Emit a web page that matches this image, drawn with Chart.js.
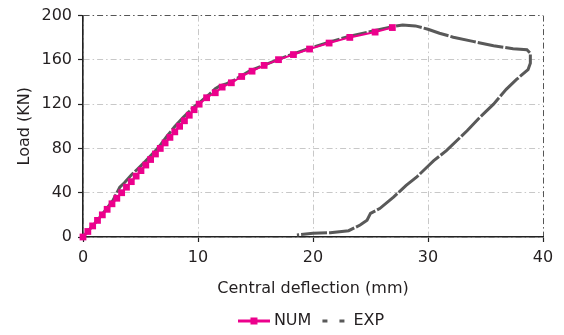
<!DOCTYPE html>
<html>
<head>
<meta charset="utf-8">
<script src="https://cdn.jsdelivr.net/npm/chart.js@4.4.1/dist/chart.umd.min.js"></script>
<style>
  html, body { margin: 0; padding: 0; background: #ffffff; }
  #wrap { width: 564px; height: 335px; }
</style>
</head>
<body>
<div id="wrap"><canvas id="c" width="564" height="335"></canvas></div>
<script>
// NUM series (central deflection mm, load kN)
const numX = [0, 0.42, 0.84, 1.26, 1.68, 2.1, 2.52, 2.94, 3.36, 3.78, 4.2, 4.62, 5.04, 5.46, 5.88, 6.3, 6.72, 7.14, 7.56, 7.98, 8.4, 8.82, 9.24, 9.66, 10.1, 10.75, 11.5, 12.1, 12.9, 13.8, 14.7, 15.75, 17.0, 18.3, 19.7, 21.4, 23.2, 25.4, 26.9];
const numY = [0, 5, 10, 15, 20, 25, 30, 35, 40, 45, 50, 55, 60, 65, 70, 75, 80, 85, 90, 95, 100, 105, 110, 115, 120, 125.8, 130.3, 135.4, 139.3, 145, 149.8, 155, 160.2, 164.8, 169.8, 175.2, 180.3, 185.1, 189.2];

// EXP series (central deflection mm, load kN)
const expX = [0, 1.0, 2.0, 2.6, 3.2, 3.6, 4.2, 4.7, 5.2, 5.65, 6.4, 6.8, 7.3, 8.0, 8.7, 9.6, 10.2, 11.0, 11.5, 11.9, 12.5, 13.2, 14.0, 14.5, 15.7, 17.0, 18.3, 19.7, 21.4, 23.2, 25.4, 26.9, 27.8, 28.9, 30.0, 31.0, 32.2, 33.9, 35.7, 37.4, 38.6, 38.9, 38.9, 38.7, 37.7, 36.8, 35.7, 34.5, 33.4, 32.8, 31.6, 30.5, 29.9, 29.0, 28.1, 27.0, 25.8, 25.0, 24.7, 24.1, 23.1, 21.5, 20.0, 18.6];
const expY = [0, 12, 25, 33, 45, 49, 56, 61, 66, 71, 79, 84, 91, 100, 108, 117, 122, 129, 134, 136.5, 138.5, 142, 147, 150, 155, 160.5, 165.5, 170.5, 176, 181.5, 186.5, 190, 191.5, 190.7, 187.7, 184.1, 180.5, 176.7, 172.8, 170.1, 169.2, 166, 157, 151.3, 142.3, 133.4, 120, 108, 96, 90, 78, 69, 63, 54, 46.6, 36, 25.7, 21.3, 15.2, 10.8, 5.7, 3.9, 3.3, 1.8];

const seriesNames = ['NUM', 'EXP'];
const xTitle = 'Central deflection (mm)';
const yTitle = 'Load (KN)';

const PINK = '#ec008c';
const GRAY = '#595959';
const TEXT = '#231f20';

// legend symbols
function makeNumIcon() {
  const c = document.createElement('canvas');
  c.width = 32; c.height = 10;
  const g = c.getContext('2d');
  g.strokeStyle = PINK; g.lineWidth = 3;
  g.beginPath(); g.moveTo(0, 5); g.lineTo(32, 5); g.stroke();
  g.fillStyle = PINK; g.fillRect(12.5, 1.5, 7, 7);
  return c;
}
function makeExpIcon() {
  const c = document.createElement('canvas');
  c.width = 26; c.height = 10;
  const g = c.getContext('2d');
  g.strokeStyle = GRAY; g.lineWidth = 3;
  g.beginPath(); g.moveTo(2, 5); g.lineTo(7, 5); g.moveTo(19, 5); g.lineTo(24, 5); g.stroke();
  return c;
}
const numIcon = makeNumIcon();
const expIcon = makeExpIcon();

Chart.defaults.font.family = "'DejaVu Sans', 'Liberation Sans', Arial, sans-serif";
Chart.defaults.font.size = 16;
Chart.defaults.color = TEXT;

const numData = numX.map((x, i) => ({ x: x, y: numY[i] }));
const expData = expX.map((x, i) => ({ x: x, y: expY[i] }));

new Chart(document.getElementById('c'), {
  type: 'scatter',
  data: {
    datasets: [
      {
        label: seriesNames[0],
        data: numData,
        showLine: true,
        borderColor: PINK,
        backgroundColor: PINK,
        borderWidth: 2,
        pointStyle: 'rect',
        pointRadius: 4.8,
        pointBorderWidth: 0,
        pointBackgroundColor: PINK,
        clip: false,
        tension: 0
      },
      {
        label: seriesNames[1],
        data: expData,
        showLine: true,
        borderColor: GRAY,
        backgroundColor: GRAY,
        borderWidth: 3,
        borderDash: [26, 2],
        pointRadius: 0,
        clip: false,
        tension: 0
      }
    ]
  },
  options: {
    responsive: false,
    animation: false,
    devicePixelRatio: 1,
    layout: { padding: { top: 14, right: 21, bottom: -4, left: 0 } },
    plugins: {
      tooltip: { enabled: false },
      legend: {
        display: true,
        position: 'bottom',
        fullSize: false,
        labels: {
          usePointStyle: true,
          pointStyleWidth: 24,
          padding: 10,
          color: TEXT,
          font: { size: 16 },
          generateLabels: function (chart) {
            const items = Chart.defaults.plugins.legend.labels.generateLabels(chart);
            items[0].pointStyle = numIcon;
            items[1].pointStyle = expIcon;
            return items;
          }
        }
      }
    },
    scales: {
      x: {
        type: 'linear',
        min: 0, max: 40,
        ticks: { stepSize: 10, padding: 6, color: TEXT, font: { size: 16 } },
        grid: {
          color: (ctx) => (ctx.tick && ctx.tick.value === 40) ? '#555555' : '#c8c8c8',
          lineWidth: 1,
          tickColor: '#222222',
          tickLength: 5,
          tickWidth: 1.2
        },
        border: { display: true, color: '#222222', width: 1.6, dash: [6, 3, 1.5, 3] },
        title: { display: true, text: xTitle, color: TEXT, font: { size: 16 }, padding: { top: 0, bottom: 5 } },
        afterFit: (scale) => { scale.height = 66; }
      },
      y: {
        type: 'linear',
        min: 0, max: 200,
        ticks: { stepSize: 40, padding: 6, color: TEXT, font: { size: 16 } },
        grid: {
          color: (ctx) => (ctx.tick && ctx.tick.value === 200) ? '#555555' : '#c8c8c8',
          lineWidth: 1,
          tickColor: '#222222',
          tickLength: 5,
          tickWidth: 1.2
        },
        border: { display: true, color: '#222222', width: 1.6, dash: [6, 3, 1.5, 3] },
        title: { display: true, text: yTitle, color: TEXT, font: { size: 16 }, padding: { top: 15, bottom: 0 } },
        afterFit: (scale) => { scale.width = 83; }
      }
    }
  }
});
</script>
</body>
</html>
